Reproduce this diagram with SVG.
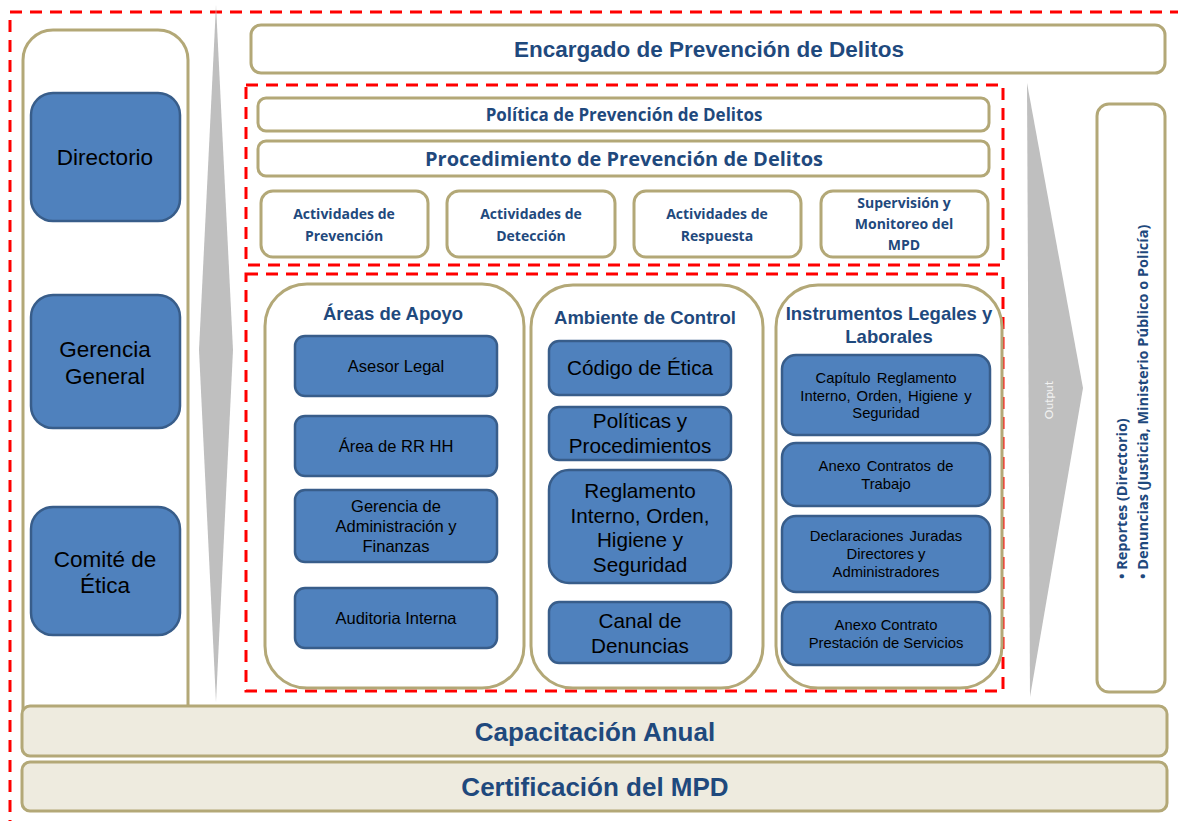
<svg xmlns="http://www.w3.org/2000/svg" width="1178" height="821" viewBox="0 0 1178 821">
<style>
.tan{fill:#fff;stroke:#B3A877;stroke-width:3}
.bar{fill:#EEEBDF;stroke:#B3A877;stroke-width:3}
.blue{fill:#4F81BD;stroke:#385D8A;stroke-width:2.5}
.red{fill:none;stroke:#FF0000;stroke-width:3;stroke-dasharray:12 8}
.arrow{fill:#BFBFBF}
.a{font-family:"Liberation Sans",Arial,sans-serif;fill:#000;text-anchor:middle}
.ab{font-family:"Liberation Sans",Arial,sans-serif;font-weight:bold;fill:#1F497D;text-anchor:middle}
.c{font-family:"Open Sans",Lato,sans-serif;font-weight:bold;fill:#1F497D;text-anchor:middle}
</style>
<rect width="1178" height="821" fill="#fff"/>
<g id="frame">
<rect class="red" x="10" y="12" width="1200" height="850"/>
</g>
<g id="arrows">
<path class="arrow" d="M216,5 L233,350 L216,702 L199,350 Z"/>
<path class="arrow" d="M1027,83 L1083,388 L1030,697 Z"/>
<text x="1053" y="400" transform="rotate(-90 1053 400)" font-family="Lato,sans-serif" font-size="12" fill="#F2F2F2" text-anchor="middle">Output</text>
</g>
<g id="left-column">
<rect class="tan" x="23" y="30" width="165" height="720" rx="30"/>
</g>
<g id="directorio">
<rect class="blue" x="31" y="93" width="149" height="128" rx="22"/>
<text class="a" x="105" y="165" font-size="22.5">Directorio</text>
</g>
<g id="gerencia-general">
<rect class="blue" x="31" y="295" width="149" height="133" rx="22"/>
<text class="a" x="105" y="357" font-size="22.5">Gerencia</text>
<text class="a" x="105" y="384" font-size="22.5">General</text>
</g>
<g id="comite-etica">
<rect class="blue" x="31" y="507" width="149" height="128" rx="22"/>
<text class="a" x="105" y="567" font-size="22.5">Comité de</text>
<text class="a" x="105" y="593" font-size="22.5">Ética</text>
</g>
<g id="encargado">
<rect class="tan" x="251" y="25" width="914" height="48" rx="10"/>
<text class="ab" x="709" y="57" font-size="22.5">Encargado de Prevención de Delitos</text>
</g>
<g id="zona-politicas">
<rect class="red" x="246" y="85" width="757" height="180" stroke-dasharray="10 6"/>
</g>
<g id="politica">
<rect class="tan" x="258" y="98" width="731" height="33" rx="8"/>
<text class="c" x="624" y="121" font-size="17">Política de Prevención de Delitos</text>
</g>
<g id="procedimiento">
<rect class="tan" x="258" y="141" width="731" height="35" rx="8"/>
<text class="c" x="624" y="165.5" font-size="20">Procedimiento de Prevención de Delitos</text>
</g>
<g id="act-prevencion">
<rect class="tan" x="261" y="191" width="167" height="66" rx="12"/>
<text class="c" x="344" y="219" font-size="14">Actividades de</text>
<text class="c" x="344" y="241" font-size="14">Prevención</text>
</g>
<g id="act-deteccion">
<rect class="tan" x="447" y="191" width="168" height="66" rx="12"/>
<text class="c" x="531" y="219" font-size="14">Actividades de</text>
<text class="c" x="531" y="241" font-size="14">Detección</text>
</g>
<g id="act-respuesta">
<rect class="tan" x="634" y="191" width="167" height="66" rx="12"/>
<text class="c" x="717" y="219" font-size="14">Actividades de</text>
<text class="c" x="717" y="241" font-size="14">Respuesta</text>
</g>
<g id="supervision">
<rect class="tan" x="821" y="191" width="167" height="66" rx="12"/>
<text class="c" x="904" y="208" font-size="14">Supervisión y</text>
<text class="c" x="904" y="229" font-size="14">Monitoreo del</text>
<text class="c" x="904" y="250" font-size="14">MPD</text>
</g>
<g id="zona-apoyo">
<rect class="red" x="246" y="274" width="757" height="417" stroke-dasharray="10 6"/>
</g>
<g id="areas-apoyo">
<rect class="tan" x="265" y="284" width="259" height="404" rx="42"/>
<text class="ab" x="393" y="320" font-size="18.5">Áreas de Apoyo</text>
</g>
<g id="asesor-legal">
<rect class="blue" x="295" y="336" width="202" height="60" rx="10"/>
<text class="a" x="396" y="372" font-size="16.5">Asesor Legal</text>
</g>
<g id="rrhh">
<rect class="blue" x="295" y="416" width="202" height="60" rx="10"/>
<text class="a" x="396" y="452" font-size="16.5">Área de RR HH</text>
</g>
<g id="gerencia-admin">
<rect class="blue" x="295" y="490" width="202" height="72" rx="10"/>
<text class="a" x="396" y="512" font-size="16.5">Gerencia de</text>
<text class="a" x="396" y="532" font-size="16.5">Administración y</text>
<text class="a" x="396" y="552" font-size="16.5">Finanzas</text>
</g>
<g id="auditoria">
<rect class="blue" x="295" y="588" width="202" height="60" rx="10"/>
<text class="a" x="396" y="624" font-size="16.5">Auditoria Interna</text>
</g>
<g id="ambiente-control">
<rect class="tan" x="531" y="285" width="232" height="403" rx="42"/>
<text class="ab" x="645" y="324" font-size="18.5">Ambiente de Control</text>
</g>
<g id="codigo-etica">
<rect class="blue" x="549" y="341" width="182" height="54" rx="10"/>
<text class="a" x="640" y="375" font-size="20.7">Código de Ética</text>
</g>
<g id="politicas-proc">
<rect class="blue" x="549" y="407" width="182" height="53" rx="10"/>
<text class="a" x="640" y="428" font-size="20.7">Políticas y</text>
<text class="a" x="640" y="453" font-size="20.7">Procedimientos</text>
</g>
<g id="reglamento">
<rect class="blue" x="549" y="470" width="182" height="113" rx="20"/>
<text class="a" x="640" y="498" font-size="20.7">Reglamento</text>
<text class="a" x="640" y="523" font-size="20.7">Interno, Orden,</text>
<text class="a" x="640" y="547" font-size="20.7">Higiene y</text>
<text class="a" x="640" y="572" font-size="20.7">Seguridad</text>
</g>
<g id="canal-denuncias">
<rect class="blue" x="549" y="602" width="182" height="61" rx="10"/>
<text class="a" x="640" y="628" font-size="20.7">Canal de</text>
<text class="a" x="640" y="653" font-size="20.7">Denuncias</text>
</g>
<g id="instrumentos">
<rect class="tan" x="776" y="285" width="226" height="403" rx="42"/>
<text class="ab" x="889" y="320" font-size="18.5">Instrumentos Legales y</text>
<text class="ab" x="889" y="343" font-size="18.5">Laborales</text>
</g>
<g id="capitulo">
<rect class="blue" x="782" y="355" width="208" height="80" rx="14"/>
<text class="a" x="886" y="383" font-size="14.8" word-spacing="2">Capítulo Reglamento</text>
<text class="a" x="886" y="401" font-size="14.8" word-spacing="2">Interno, Orden, Higiene y</text>
<text class="a" x="886" y="418" font-size="14.8">Seguridad</text>
</g>
<g id="anexo-trabajo">
<rect class="blue" x="782" y="443" width="208" height="63" rx="14"/>
<text class="a" x="886" y="471" font-size="14.8" word-spacing="2">Anexo Contratos de</text>
<text class="a" x="886" y="489" font-size="14.8">Trabajo</text>
</g>
<g id="declaraciones">
<rect class="blue" x="782" y="516" width="208" height="76" rx="14"/>
<text class="a" x="886" y="541" font-size="14.8" word-spacing="2">Declaraciones Juradas</text>
<text class="a" x="886" y="559" font-size="14.8">Directores y</text>
<text class="a" x="886" y="577" font-size="14.8">Administradores</text>
</g>
<g id="anexo-servicios">
<rect class="blue" x="782" y="602" width="208" height="63" rx="14"/>
<text class="a" x="886" y="630" font-size="14.8">Anexo Contrato</text>
<text class="a" x="886" y="648" font-size="14.8">Prestación de Servicios</text>
</g>
<g id="output-box">
<rect class="tan" x="1097" y="104" width="68" height="588" rx="12"/>
<g font-family="'Open Sans',Lato,sans-serif" font-weight="bold" font-size="14.5" fill="#1F497D">
<text x="1127" y="579" transform="rotate(-90 1127 579)">•  Reportes (Directorio)</text>
<text x="1148" y="579" transform="rotate(-90 1148 579)">•  Denuncias (Justicia, Ministerio Público o Policía)</text>
</g>
</g>
<g id="capacitacion">
<rect class="bar" x="22" y="706" width="1145" height="50" rx="8"/>
<text class="ab" x="595" y="741" font-size="26">Capacitación Anual</text>
</g>
<g id="certificacion">
<rect class="bar" x="22" y="762" width="1145" height="49" rx="8"/>
<text class="ab" x="595" y="796" font-size="26">Certificación del MPD</text>
</g>
<g id="connectors"></g>
</svg>
